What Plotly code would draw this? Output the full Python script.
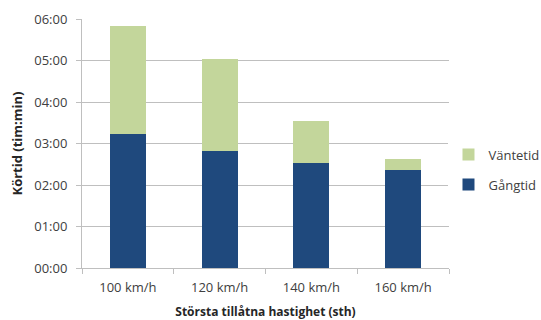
import plotly.graph_objects as go

# Körtid per största tillåtna hastighet, i minuter
categories = ["100 km/h", "120 km/h", "140 km/h", "160 km/h"]
gangtid = [194, 169, 152, 142]
vantetid = [156, 133, 61, 15]

tick_vals = [0, 60, 120, 180, 240, 300, 360]
tick_text = ["00:00", "01:00", "02:00", "03:00", "04:00", "05:00", "06:00"]

font_family = "'Open Sans', sans-serif"
text_color = "#404040"
title_color = "#262626"
grid_color = "#BFBFBF"

fig = go.Figure()
fig.add_trace(go.Bar(
    x=categories, y=gangtid, name="Gångtid",
    marker=dict(color="#1F497D", line=dict(width=0)),
    legendgroup="g", legendrank=2,
))
fig.add_trace(go.Bar(
    x=categories, y=vantetid, name="Väntetid",
    marker=dict(color="#C3D69B", line=dict(width=0)),
    legendgroup="v", legendrank=1,
))

fig.update_layout(
    barmode="stack",
    bargap=0.61,
    width=541, height=320,
    margin=dict(l=82, r=92, t=19, b=52, autoexpand=False),
    paper_bgcolor="white",
    plot_bgcolor="white",
    font=dict(family=font_family, size=13, color=text_color),
    legend=dict(
        xref="container", yref="container",
        x=0.829, y=0.47, xanchor="left", yanchor="middle",
        font=dict(size=13, color=text_color),
        tracegroupgap=10,
        itemwidth=30,
    ),
    xaxis=dict(
        showline=True, linecolor=grid_color, linewidth=1,
        ticks="outside", tickson="boundaries", ticklen=5, tickcolor=grid_color,
        ticklabelstandoff=7,
        showgrid=False,
        title=dict(text="<b>Största tillåtna hastighet (sth)</b>", standoff=13,
                   font=dict(size=12, color=title_color)),
        tickfont=dict(size=13, color=text_color),
    ),
    yaxis=dict(
        range=[0, 360],
        tickvals=tick_vals, ticktext=tick_text,
        showline=True, linecolor=grid_color, linewidth=1,
        ticks="outside", ticklen=5, tickcolor=grid_color,
        ticklabelstandoff=6,
        showgrid=True, gridcolor=grid_color, gridwidth=1,
        zeroline=False,
        title=dict(text="<b>Körtid (tim:min)</b>", standoff=8,
                   font=dict(size=13, color=title_color)),
        tickfont=dict(size=13, color=text_color),
    ),
)

fig.write_html("out.html")
